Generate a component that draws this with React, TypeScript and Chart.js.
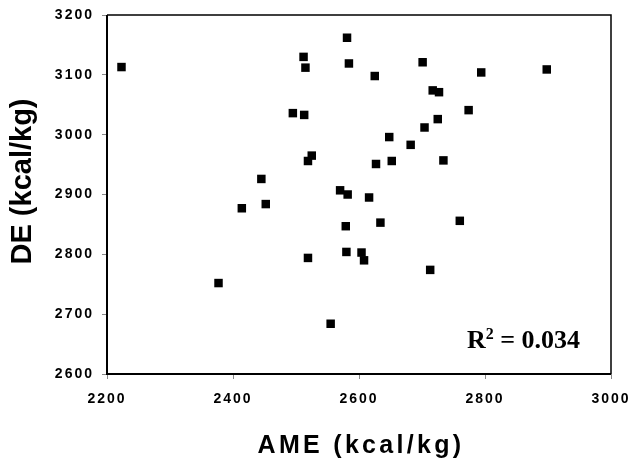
import React, { useEffect, useRef } from "react";
import { Chart, registerables } from "chart.js";

Chart.register(...registerables);

const AME = [
  2223, 2512, 2515, 2495, 2513, 2519, 2525, 2445, 2452, 2414,
  2581, 2584, 2625, 2701, 2794, 2898, 2717, 2727, 2774, 2725,
  2704, 2648, 2682, 2652, 2627, 2734, 2570, 2582, 2616, 2579,
  2634, 2760, 2377, 2519, 2580, 2604, 2608, 2713, 2555,
];
const DE = [
  3113, 3130, 3112, 3036, 3033, 2956, 2965, 2926, 2884, 2877,
  3162, 3119, 3098, 3121, 3104, 3109, 3074, 3071, 3041, 3026,
  3012, 2996, 2983, 2956, 2951, 2957, 2907, 2900, 2895, 2847,
  2853, 2856, 2752, 2794, 2804, 2803, 2790, 2774, 2684,
];
const X_TITLE = "AME (kcal/kg)";
const Y_TITLE = "DE (kcal/kg)";
const R2_LABEL = "0.034";

const textPlugin = {
  id: "customText",
  beforeDraw(chart: any) {
    chart.ctx.letterSpacing = "2px";
  },
  afterDraw(chart: any) {
    const ctx = chart.ctx;
    const a = chart.chartArea;
    ctx.save();
    ctx.letterSpacing = "0px";
    // frame
    ctx.strokeStyle = "#000";
    ctx.lineWidth = 1.5;
    ctx.beginPath();
    ctx.moveTo(a.left, a.top);
    ctx.lineTo(a.right, a.top);
    ctx.lineTo(a.right, a.bottom);
    ctx.stroke();
    ctx.lineWidth = 2;
    ctx.beginPath();
    ctx.moveTo(a.left, a.top);
    ctx.lineTo(a.left, a.bottom);
    ctx.lineTo(a.right, a.bottom);
    ctx.stroke();

    ctx.fillStyle = "#000";
    // x title
    ctx.font = "bold 25px 'Liberation Sans', Arial, sans-serif";
    ctx.letterSpacing = "3.3px";
    ctx.textAlign = "center";
    ctx.textBaseline = "alphabetic";
    ctx.fillText(X_TITLE, (a.left + a.right) / 2 + 2, 453);
    // y title
    ctx.save();
    ctx.translate(31, (a.top + a.bottom) / 2 - 13);
    ctx.rotate(-Math.PI / 2);
    ctx.font = "bold 29px 'Liberation Sans', Arial, sans-serif";
    ctx.letterSpacing = "0px";
    ctx.fillText(Y_TITLE, 0, 0);
    ctx.restore();
    // R^2
    ctx.letterSpacing = "0px";
    ctx.textAlign = "left";
    ctx.font = "bold 26px 'Liberation Serif', 'Times New Roman', serif";
    let x = 467;
    const y = 348;
    ctx.fillText("R", x, y);
    x += ctx.measureText("R").width;
    ctx.font = "bold 16px 'Liberation Serif', 'Times New Roman', serif";
    ctx.fillText("2", x, y - 9);
    x += ctx.measureText("2").width;
    ctx.font = "bold 26px 'Liberation Serif', 'Times New Roman', serif";
    ctx.fillText(" = " + R2_LABEL, x, y);
    ctx.restore();
  },
};

export default function App() {
  const ref = useRef<HTMLCanvasElement>(null);
  useEffect(() => {
    const chart = new Chart(ref.current!, {
      type: "scatter",
      data: {
        datasets: [
          {
            data: AME.map((v, i) => ({ x: v, y: DE[i] })),
            pointStyle: "rect",
            pointRadius: 6,
            pointHoverRadius: 6,
            backgroundColor: "#000",
            borderWidth: 0,
          },
        ],
      },
      options: {
        animation: false,
        responsive: false,
        events: [],
        layout: { padding: { top: 15, right: 19, left: 0, bottom: 0 } },
        plugins: { legend: { display: false }, tooltip: { enabled: false } },
        scales: {
          x: {
            type: "linear",
            min: 2200,
            max: 3000,
            border: { display: false },
            grid: { drawOnChartArea: false, drawTicks: true, tickLength: 5, color: "#888" },
            ticks: {
              stepSize: 200,
              padding: 12,
              color: "#000",
              callback: (v: any) => String(v),
              font: { family: "'Liberation Sans', Arial, sans-serif", size: 14, weight: "bold" },
            },
            afterFit: (s: any) => {
              s.height = 85;
              s.paddingLeft = 0;
              s.paddingRight = 0;
            },
          },
          y: {
            type: "linear",
            min: 2600,
            max: 3200,
            border: { display: false },
            grid: { drawOnChartArea: false, drawTicks: true, tickLength: 5, color: "#888" },
            ticks: {
              stepSize: 100,
              padding: 8,
              color: "#000",
              callback: (v: any) => String(v),
              font: { family: "'Liberation Sans', Arial, sans-serif", size: 14, weight: "bold" },
            },
            afterFit: (s: any) => {
              s.width = 107;
              s.paddingTop = 0;
              s.paddingBottom = 0;
            },
          },
        },
      },
      plugins: [textPlugin],
    } as any);
    return () => chart.destroy();
  }, []);
  return (
    <div style={{ position: "absolute", left: 0, top: 0, width: 630, height: 459, background: "#fff" }}>
      <canvas ref={ref} width={630} height={459} />
    </div>
  );
}
